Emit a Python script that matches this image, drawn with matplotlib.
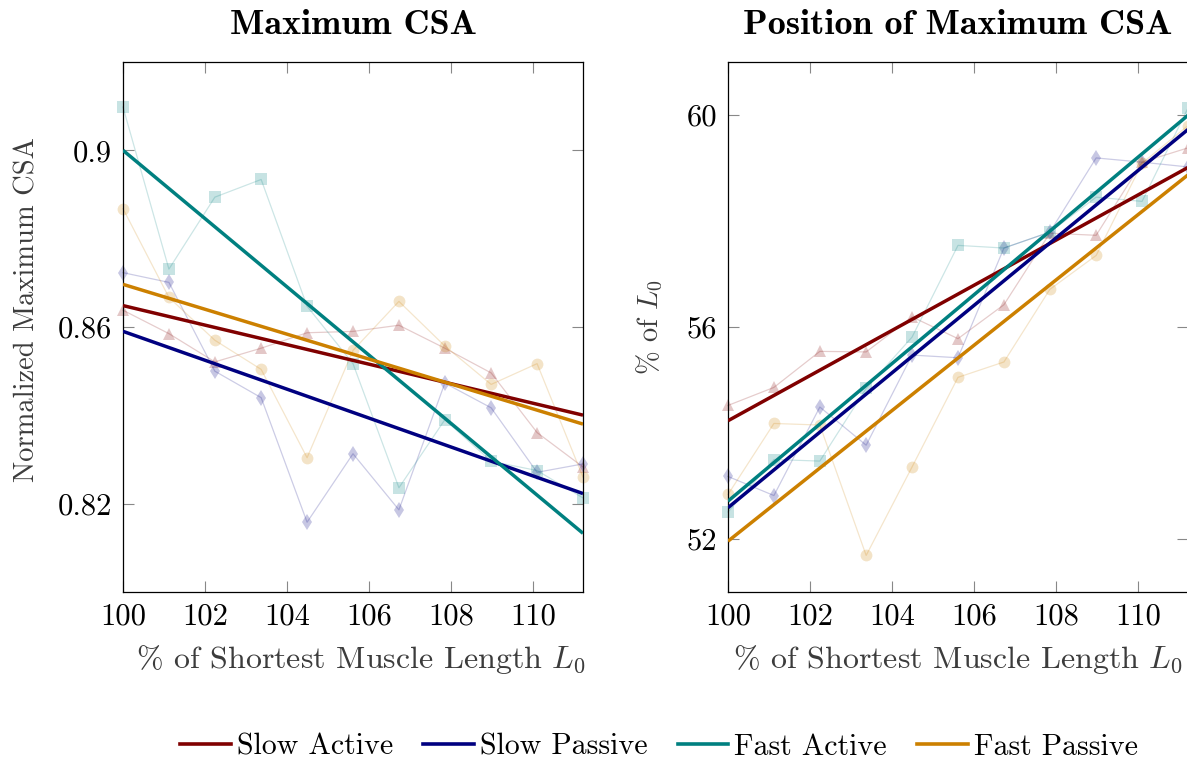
import numpy as np
import matplotlib
matplotlib.use("Agg")
import matplotlib.pyplot as plt
from matplotlib.lines import Line2D

plt.rcParams["font.family"] = ["cmr10"]
plt.rcParams["mathtext.fontset"] = "cm"
plt.rcParams["axes.formatter.use_mathtext"] = True
plt.rcParams["axes.unicode_minus"] = False

# Muscle length as % of the shortest length L0
length_pct = [100.00, 101.12, 102.24, 103.37, 104.49, 105.61,
              106.73, 107.85, 108.98, 110.10, 111.22]

# Normalized maximum cross-sectional area
slow_active_csa = [0.8638, 0.8585, 0.8521, 0.8552, 0.8587, 0.8590,
                   0.8604, 0.8552, 0.8496, 0.8361, 0.8283]
slow_passive_csa = [0.8723, 0.8701, 0.8500, 0.8440, 0.8158, 0.8313,
                    0.8186, 0.8473, 0.8417, 0.8271, 0.8290]
fast_active_csa = [0.9098, 0.8731, 0.8894, 0.8934, 0.8647, 0.8517,
                   0.8236, 0.8390, 0.8296, 0.8275, 0.8213]
fast_passive_csa = [0.8868, 0.8667, 0.8570, 0.8504, 0.8304, 0.8547,
                    0.8658, 0.8557, 0.8470, 0.8517, 0.8260]

# Position of the maximum CSA (% of L0)
slow_active_pos = [54.52, 54.86, 55.54, 55.53, 56.19, 55.78,
                   56.42, 57.77, 57.73, 59.11, 59.38]
slow_passive_pos = [53.18, 52.82, 54.49, 53.77, 55.47, 55.42,
                    57.49, 57.79, 59.19, 59.11, 59.02]
fast_active_pos = [52.51, 53.50, 53.47, 54.84, 55.81, 57.54,
                   57.49, 57.79, 58.45, 58.37, 60.13]
fast_passive_pos = [52.84, 54.18, 54.15, 51.69, 53.36, 55.05,
                    55.34, 56.71, 57.35, 59.09, 59.80]

series_names = ["Slow Active", "Slow Passive", "Fast Active", "Fast Passive"]
series_colors = ["#800000", "#000080", "#008080", "#CC8000"]
series_markers = ["^", "d", "s", "o"]

x_ticks = [100, 102, 104, 106, 108, 110]
csa_ticks = [0.82, 0.86, 0.9]
csa_tick_labels = ["0.82", "0.86", "0.9"]
pos_ticks = [52, 56, 60]
pos_tick_labels = ["52", "56", "60"]

FS = 22
W, H = 1187, 760
fig = plt.figure(figsize=(W / 100, H / 100), dpi=100)

ax_l = fig.add_axes([123 / W, 1 - 592 / H, 460 / W, 530 / H])
ax_r = fig.add_axes([728 / W, 1 - 592 / H, 460 / W, 530 / H])

panels = [
    (ax_l, [slow_active_csa, slow_passive_csa, fast_active_csa, fast_passive_csa],
     (0.80, 0.92), csa_ticks, csa_tick_labels),
    (ax_r, [slow_active_pos, slow_passive_pos, fast_active_pos, fast_passive_pos],
     (51, 61), pos_ticks, pos_tick_labels),
]

x = np.array(length_pct)
xlim = (100, 111.22)
for ax, data, ylim, yt, ytl in panels:
    for vals, col, mk in zip(data, series_colors, series_markers):
        ax.plot(x, vals, color=col, lw=0.9, alpha=0.2, clip_on=False, zorder=2)
        ax.plot(x, vals, linestyle="none", marker=mk, markersize=8.5,
                markerfacecolor=col, markeredgewidth=0, alpha=0.22,
                clip_on=False, zorder=2)
        slope, icpt = np.polyfit(x, vals, 1)
        xf = np.array(xlim)
        ax.plot(xf, slope * xf + icpt, color=col, lw=2.5, zorder=3,
                solid_capstyle="butt")
    ax.set_xlim(*xlim)
    ax.set_ylim(*ylim)
    ax.set_xticks(x_ticks)
    ax.set_xticklabels([str(t) for t in x_ticks])
    ax.set_yticks(yt)
    ax.set_yticklabels(ytl)
    ax.tick_params(direction="in", length=8, width=0.8, color="#888888",
                   labelsize=FS, labelcolor="black", top=True, right=True)
    ax.tick_params(axis="x", pad=8)
    ax.tick_params(axis="y", pad=8)
    for s in ax.spines.values():
        s.set_linewidth(0.9)
        s.set_color("black")

label_color = "#3c3c3c"
fig.text(353 / W, 1 - 25 / H, "Maximum CSA", family="cmb10", fontsize=26,
         ha="center", va="center")
fig.text(958 / W, 1 - 25 / H, "Position of Maximum CSA", family="cmb10",
         fontsize=26, ha="center", va="center")

fig.text(27 / W, 1 - 309 / H, "Normalized Maximum CSA", fontsize=20.5,
         rotation=90, ha="center", va="center", color=label_color)
fig.text(650 / W, 1 - 327 / H, r"% of $L_0$", fontsize=20.5,
         rotation=90, ha="center", va="center", color=label_color)
fig.text(361 / W, 1 - 660 / H, r"% of Shortest Muscle Length $L_0$",
         fontsize=23, ha="center", va="center", color=label_color)
fig.text(958 / W, 1 - 660 / H, r"% of Shortest Muscle Length $L_0$",
         fontsize=23, ha="center", va="center", color=label_color)

handles = [Line2D([], [], color=c, lw=2.6) for c in series_colors]
fig.legend(handles, series_names, loc="center",
           bbox_to_anchor=(659 / W, 1 - 747 / H), ncol=4, frameon=False,
           fontsize=21.5, handlelength=1.7, handletextpad=0.2,
           columnspacing=1.0, borderaxespad=0)

fig.savefig("out.png", dpi=100)
